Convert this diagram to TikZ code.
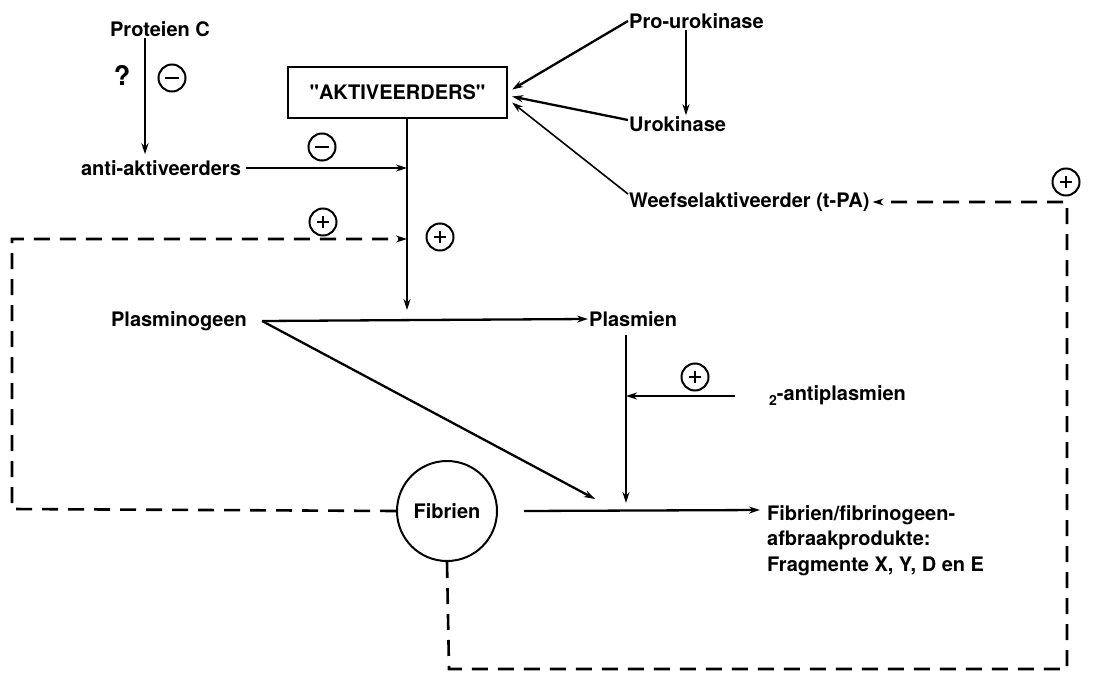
\documentclass[tikz,border=0pt]{standalone}
\usepackage{fontspec}
\setmainfont{TeX Gyre Heros}
\newfontfamily\qfont{TeX Gyre Heros}
\usetikzlibrary{arrows.meta}
\begin{document}
\begin{tikzpicture}[x=1pt,y=-1pt,
  txt/.style={font=\bfseries\fontsize{20}{25.5}\selectfont, inner sep=1pt},
  ln/.style={line width=2.3pt},
  arr/.style={ln, -{Stealth[length=11pt,width=7pt]}},
  tarr/.style={line width=1.6pt, -{Stealth[length=11pt,width=7pt]}},
  dsh/.style={line width=2.6pt, dash pattern=on 16pt off 10pt, -{Stealth[length=11pt,width=7pt]}},
  sign/.style={circle, draw, line width=2pt, minimum size=27pt, inner sep=0pt},
  plus/.style={sign, path picture={
     \draw[line width=2.4pt] ([xshift=-6pt]path picture bounding box.center) -- ([xshift=6pt]path picture bounding box.center);
     \draw[line width=2.4pt] ([yshift=-6pt]path picture bounding box.center) -- ([yshift=6pt]path picture bounding box.center);}},
  minus/.style={sign, path picture={
     \draw[line width=2.4pt] ([xshift=-7pt]path picture bounding box.center) -- ([xshift=7pt]path picture bounding box.center);}},
  boxstyle/.style={draw, line width=2.2pt, minimum width=219pt, minimum height=51pt, font=\bfseries\fontsize{20}{24}\selectfont},
  fibstyle/.style={circle, draw, line width=2pt, minimum size=100pt, inner sep=0pt, font=\bfseries\fontsize{20}{24}\selectfont}
]
\useasboundingbox (0,0) rectangle (1094,674);

% nodes
\node[txt] (protc) at (160,29) {Proteien C};
\node[txt, font=\bfseries\fontsize{27}{30}\selectfont] (q) at (122,75) {?};
\node[minus] (s1) at (172,78) {};
\node[txt] (anti) at (161,168) {anti-aktiveerders};
\node[boxstyle] (akt) at (397.5,92.5) {{\qfont\bfseries"}AKTIVEERDERS{\qfont\bfseries"}};
\node[minus] (s2) at (322,147) {};
\node[plus] (s3) at (323,222) {};
\node[plus] (s4) at (440,237) {};

\node[txt,anchor=west] (pro) at (628,21) {Pro-urokinase};
\node[txt,anchor=west] (uro) at (628,124) {Urokinase};
\node[txt,anchor=west] (tpa) at (628,202) {Weefselaktiveerder (t-PA)};
\node[plus] (s5) at (1066,182) {};

\node[txt] (plg) at (179,321) {Plasminogeen};
\node[txt,anchor=west] (pls) at (588,319) {Plasmien};
\node[txt,anchor=west] (ap) at (768,396) {{\fontsize{14}{14}\selectfont\raisebox{-5pt}{2}}-antiplasmien};
\node[plus] (s6) at (695,377) {};

\node[fibstyle] (fib) at (447,511) {Fibrien};
\node[txt,anchor=north west,align=left] (fdp) at (766,504) {Fibrien/fibrinogeen-\\afbraakprodukte:\\Fragmente X, Y, D en E};

% coordinates
\coordinate (pcx) at (145,0);
\coordinate (j1) at (407,310);
\coordinate (jd) at (407,239);
\coordinate (pux) at (686,0);
\coordinate (pv2) at (626,503);
\coordinate (jdiag) at (595,499);
\coordinate (lc1) at (12,509);
\coordinate (lc2) at (12,239);
\coordinate (bc1) at (449,669);
\coordinate (bc2) at (1067,669);
\coordinate (bc3) at (1067,202);

% connectors
\draw[arr] (protc.south -| pcx) -- ([yshift=5pt]anti.north -| pcx);
\draw[tarr] (akt.south -| j1) -- (j1);
\draw[arr] ([xshift=4pt]anti.east) -- (anti.east -| j1);
\draw[dsh] (fib.west) -- (lc1) -- (lc2) -- (jd);

\draw[arr] (pro.west) -- ([xshift=4pt,yshift=3pt]akt.east);
\draw[arr] ([yshift=4pt]uro.west) -- ([xshift=4pt,yshift=-4pt]akt.east);
\draw[tarr] ([yshift=8pt]tpa.west) -- ([xshift=4pt,yshift=-10pt]akt.east);
\draw[tarr] (pro.south -| pux) -- (uro.north -| pux);

\draw[arr] ([xshift=14pt]plg.east) -- (pls.west);
\draw[arr] ([xshift=14pt]plg.east) -- (jdiag);
\draw[tarr] ([yshift=-7pt]pls.south -| pv2) -- (pv2);
\draw[arr] ([xshift=-33pt]ap.west) -- (ap.west -| pv2);

\draw[arr] ([xshift=26pt]fib.east) -- ([xshift=-6pt]fdp.west |- 0,510);
\draw[dsh] (fib.south) -- (bc1) -- (bc2) -- (bc3) -- ([xshift=2pt]tpa.east);
\end{tikzpicture}
\end{document}
